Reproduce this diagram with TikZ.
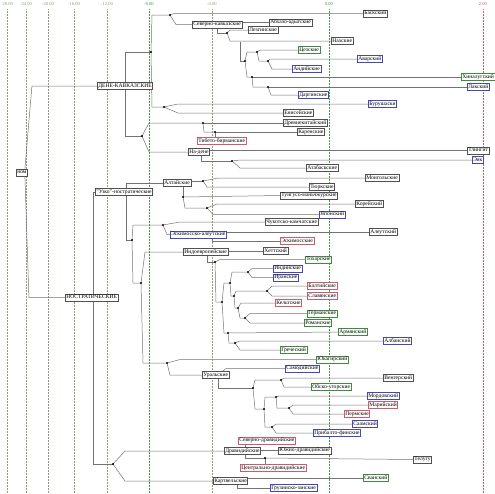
\documentclass[tikz,border=0pt]{standalone}
\usepackage{fontspec}
\setmainfont{Liberation Serif}
\usetikzlibrary{calc}
\definecolor{axg}{RGB}{140,160,120}
\definecolor{axgreen}{RGB}{70,150,70}
\definecolor{axred}{RGB}{215,90,90}
\definecolor{bgray}{RGB}{80,80,80}
\definecolor{bblue}{RGB}{70,70,180}
\definecolor{bpink}{RGB}{205,90,110}
\definecolor{bgreen}{RGB}{60,140,60}
\pgfdeclarelayer{gridl}
\pgfdeclarelayer{lines}
\pgfsetlayers{gridl,lines,main}
\newcommand\elb[3]{\draw[cn] (#1) -- ($(#1|-#2)+(#3,0)$) -- (#2);}
\begin{document}
\begin{tikzpicture}[x=1pt,y=-1pt,
  cn/.style={draw=black!55, line width=0.5pt},
  bx/.style={draw=#1, line width=0.6pt, fill=white, inner sep=1pt, anchor=west,
    font=\fontsize{5.6}{6}\selectfont, text height=4pt, text depth=1.2pt},
  bx/.default=bgray,
  axl/.style={font=\fontsize{4.6}{5}\selectfont, inner sep=0pt, text=#1},
  grd/.style={draw=#1, densely dotted, line width=0.5pt}]
\useasboundingbox (0,0) rectangle (495,493);
% axis
\begin{pgfonlayer}{gridl}
\foreach \x/\l/\c [count=\i] in {7/-28.00/axg, 26/-24.00/axg, 48/-20.00/axg, 74/-16.00/axg,
   107/-12.00/axg, 149/-8.00/axgreen, 212/-4.00/axg, 329/0.00/axgreen, 483/2.00/axred}{
  \node[axl=\c] (ax\i) at (\x,4.5) {\l};
  \draw[grd=\c] (ax\i.south) ++(0,3) -- (\x,493);
}
\end{pgfonlayer}
% dots coordinates
\coordinate (A) at (151,52);  \coordinate (B) at (170,15);
\coordinate (C) at (227,33);  \coordinate (D) at (240,41.5);
\coordinate (E) at (245,61);  \coordinate (F) at (257,52);
\coordinate (H) at (268,61);  \coordinate (G) at (252,77);
\coordinate (I) at (268,87);  \coordinate (Y) at (164,107);
\coordinate (Z) at (142,136); \coordinate (ST) at (203,123);
\coordinate (TB) at (215,132); \coordinate (EA) at (232,161);
\coordinate (Q) at (203,181); \coordinate (R) at (183,197);
\coordinate (S) at (207,208); \coordinate (P) at (132,240);
\coordinate (U) at (163,225); \coordinate (V) at (141,283);
\coordinate (X1) at (215,262); \coordinate (X2) at (222,302);
\coordinate (K1) at (230,283); \coordinate (II) at (248,272);
\coordinate (K2) at (234,296); \coordinate (BS) at (267,291);
\coordinate (K3) at (238,308); \coordinate (GI) at (245,318);
\coordinate (AG) at (228,333); \coordinate (AGr) at (235,343);
\coordinate (W) at (167,363); \coordinate (FU) at (253,388);
\coordinate (UG) at (281,380); \coordinate (FP) at (264,409);
\coordinate (FV) at (276,397); \coordinate (MP) at (289,408);
\coordinate (FB) at (272,427); \coordinate (DK) at (113,464);
\coordinate (DT) at (265,458);
% hidden internal points
\coordinate (dcn) at (125,86); \coordinate (ncn) at (217,25);
\coordinate (ndn) at (201,152); \coordinate (nosn) at (93,297.5);
\coordinate (uzn) at (126,192); \coordinate (altn) at (183,184);
\coordinate (eskn) at (212,235); \coordinate (ien) at (207,252);
\coordinate (urn) at (218,375); \coordinate (dravn) at (245,451);
\coordinate (kartn) at (237,481);
% boxes (leaves and labels)
\node[bx] (root) at (16,172.5) {ном};
\node[bx] (dc) at (97,86) {ДЕНЕ-КАВКАЗСКИЕ};
\node[bx] (nos) at (65,297.5) {НОСТРАТИЧЕСКИЕ};
\node[bx] (bask) at (363,13.5) {Баскский};
\node[bx] (nc) at (192,24.5) {Северно-кавказские};
\node[bx] (abh) at (269,22.5) {Абхазо-адыгские};
\node[bx] (lez) at (248,30) {Лезгинские};
\node[bx] (nakh) at (331,41) {Нахские};
\node[bx=bgreen] (tsez) at (298,50) {Цезские};
\node[bx=bblue] (avar) at (357,59) {Аварский};
\node[bx=bblue] (andi) at (292,69) {Андийские};
\node[bx=bgreen] (khin) at (461,77) {Хиналугский};
\node[bx=bblue] (lak) at (467,87) {Лакский};
\node[bx=bblue] (darg) at (298,95) {Даргинские};
\node[bx=bblue] (bur) at (368,104) {Бурушаски};
\node[bx] (yen) at (283,113) {Енисейские};
\node[bx] (chin) at (283,123) {Древнекитайский};
\node[bx] (kar) at (297,132) {Каренские};
\node[bx=bpink, anchor=north west] (tbb) at (197,137) {Тибето-бирманские};
\node[bx] (nad) at (188,152) {На-дене};
\node[bx] (tling) at (467,150.5) {Тлингит};
\node[bx=bblue] (eyak) at (472,160) {Эяк};
\node[bx] (atab) at (306,168) {Атабаскские};
\node[bx] (uz) at (95,192) {"Узко"-ностратические};
\node[bx] (alt) at (163,183) {Алтайские};
\node[bx] (mong) at (365,178) {Монгольские};
\node[bx] (turk) at (309,187) {Тюркские};
\node[bx] (tung) at (280,195.5) {Тунгусо-маньчжурские};
\node[bx] (kor) at (355,204) {Корейский};
\node[bx=bblue] (jap) at (319,214.5) {Японский};
\node[bx] (chuk) at (265,222) {Чукотско-камчатские};
\node[bx=bblue] (esk) at (170,234.5) {Эскимосско-алеутские};
\node[bx] (aleut) at (369,232) {Алеутский};
\node[bx=bpink] (eskim) at (280,241) {Эскимосские};
\node[bx] (ie) at (183,252) {Индоевропейские};
\node[bx] (hitt) at (263,251) {Хеттский};
\node[bx=bgreen] (toch) at (305,259.5) {Тохарские};
\node[bx=bblue] (ind) at (273,268.5) {Индийские};
\node[bx=bblue] (iran) at (273,277.5) {Иранские};
\node[bx=bpink] (balt) at (307,286) {Балтийские};
\node[bx=bpink] (slav) at (307,296) {Славянские};
\node[bx=bpink] (celt) at (275,303) {Кельтские};
\node[bx=bgreen] (germ) at (307,313.5) {Германские};
\node[bx=bgreen] (rom) at (304,323) {Романские};
\node[bx=bgreen] (arm) at (338,332) {Армянский};
\node[bx=bblue] (alb) at (383,341) {Албанский};
\node[bx=bgreen] (gr) at (280,350) {Греческий};
\node[bx=bgreen] (yuk) at (316,359.5) {Юкагирский};
\node[bx=bblue] (samo) at (285,368.5) {Самодийские};
\node[bx] (ur) at (202,375) {Уральские};
\node[bx] (veng) at (383,378) {Венгерский};
\node[bx=bgreen] (obug) at (311,387) {Обско-угорские};
\node[bx=bblue] (mord) at (367,396) {Мордовский};
\node[bx=bpink] (mari) at (368,405) {Марийский};
\node[bx=bpink] (perm) at (344,414) {Пермские};
\node[bx=bblue] (saam) at (352,424) {Саамский};
\node[bx=bblue] (pbf) at (313,433) {Прибалто-финские};
\node[bx=bpink] (sevd) at (238,440.5) {Северно-дравидийские};
\node[bx] (drav) at (224,451) {Дравидийские};
\node[bx] (yuzhd) at (278,450.5) {Южно-дравидийские};
\node[bx] (tel) at (413,459.5) {Телугу};
\node[bx=bpink] (centd) at (240,468) {Центрально-дравидийские};
\node[bx] (kart) at (213,481) {Картвельские};
\node[bx=bgreen] (svan) at (363,478) {Сванский};
\node[bx=bblue] (gruz) at (270,488) {Грузинско-занские};
% connectors
\begin{pgfonlayer}{lines}
\draw[cn] ($(root.north)+(3,0)$) -- ($(root.north|-dc.west)+(10,0)$) -- (dc.west);
\draw[cn] ($(root.south)+(3,0)$) -- ($(root.south|-nos.west)+(7,0)$) -- (nos.west);
\draw[cn] (dcn) |- (A); \draw[cn] (dcn) |- (Z);
\elb{A}{B}{1} \elb{A}{Y}{1}
\elb{B}{bask.west}{4} \elb{B}{nc.west}{6}
\draw[cn] (nc.east|-abh.west) -- (abh.west);
\draw[cn] (ncn) |- (C);
\elb{C}{lez.west}{3} \elb{C}{nakh.west}{3}
\draw[cn] (D) |- (E);
\elb{E}{F}{2} \elb{E}{G}{2}
\elb{F}{tsez.west}{3} \elb{F}{H}{2}
\elb{H}{avar.west}{2} \elb{H}{andi.west}{4}
\draw[cn] (G) -- (khin.west); \elb{G}{I}{1}
\draw[cn] (I) -- (lak.west); \elb{I}{darg.west}{3}
\elb{Y}{bur.west}{14} \elb{Y}{yen.west}{14}
\elb{Z}{ST}{7} \elb{Z}{nad.west}{7}
\draw[cn] (ST) -- (chin.west); \elb{ST}{TB}{1}
\draw[cn] (TB) -- (kar.west); \draw[cn] (TB) -- (TB|-tbb.north);
\draw[cn] (nad.east|-tling.west) -- (tling.west);
\draw[cn] (ndn) |- (EA);
\elb{EA}{eyak.west}{8} \elb{EA}{atab.west}{8}
\draw[cn] (nosn) -- (nosn|-uz.west) -- (uz.west);
\draw[cn] (nosn) |- (DK);
\draw[cn] (uzn) |- (alt.west);
\draw[cn] (uzn) |- (P);
\elb{P}{U}{1} \elb{P}{V}{1}
\draw[cn] (alt.east|-Q) -- (Q);
\draw[cn] (altn) -- (R);
\elb{Q}{mong.west}{15} \elb{Q}{turk.west}{4}
\draw[cn] (R) -- (tung.west); \elb{R}{S}{2}
\elb{S}{kor.west}{10} \elb{S}{jap.west}{6}
\elb{U}{chuk.west}{17} \elb{U}{esk.west}{4}
\draw[cn] (esk.east|-aleut.west) -- (aleut.west);
\draw[cn] (eskn) |- (eskim.west);
\elb{V}{ie.west}{4} \elb{V}{W}{2}
\draw[cn] (ie.east|-hitt.west) -- (hitt.west);
\draw[cn] (ien) |- (X1);
\elb{X1}{toch.west}{5} \elb{X1}{X2}{1}
\elb{X2}{K1}{2} \elb{X2}{AG}{2}
\elb{K1}{II}{2} \elb{K1}{K2}{1}
\elb{II}{ind.west}{4} \elb{II}{iran.west}{4}
\elb{K2}{BS}{2} \elb{K2}{K3}{1}
\elb{BS}{balt.west}{5} \elb{BS}{slav.west}{5}
\elb{K3}{celt.west}{3} \elb{K3}{GI}{2}
\elb{GI}{germ.west}{5} \elb{GI}{rom.west}{5}
\draw[cn] (AG) -- (arm.west); \elb{AG}{AGr}{1}
\elb{AGr}{alb.west}{5} \elb{AGr}{gr.west}{5}
\elb{W}{yuk.west}{13} \elb{W}{ur.west}{3}
\elb{urn}{samo.west}{8}
\draw[cn] (urn) |- (FU);
\elb{FU}{UG}{2} \elb{FU}{FP}{2}
\elb{UG}{veng.west}{3} \elb{UG}{obug.west}{3}
\elb{FP}{FV}{1} \elb{FP}{FB}{1}
\elb{FV}{mord.west}{3} \elb{FV}{MP}{1}
\elb{MP}{mari.west}{4} \elb{MP}{perm.west}{4}
\elb{FB}{saam.west}{4} \elb{FB}{pbf.west}{4}
\elb{DK}{drav.west}{12} \elb{DK}{kart.west}{12}
\draw[cn] (dravn) -- (dravn|-sevd.south);
\draw[cn] (drav.east|-yuzhd.west) -- (yuzhd.west);
\draw[cn] (dravn) |- (DT);
\draw[cn] (DT) -- (tel.west); \draw[cn] (DT) -- (DT|-centd.north);
\draw[cn] (kart.east|-svan.west) -- (svan.west);
\draw[cn] (kartn) |- (gruz.west);
\end{pgfonlayer}
% dots
\foreach \p in {A,B,C,E,F,H,G,I,Y,Z,ST,TB,EA,Q,R,S,P,U,V,X1,X2,K1,II,K2,BS,K3,GI,AG,AGr,W,FU,UG,FP,FV,MP,FB,DK,DT}
  \fill (\p) circle (1.2);
\end{tikzpicture}
\end{document}
